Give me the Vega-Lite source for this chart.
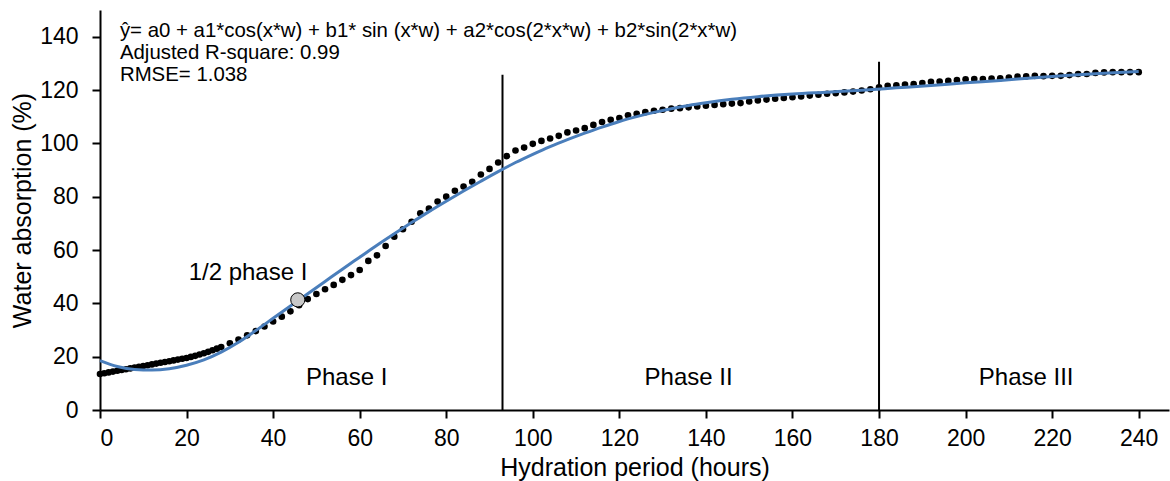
{
  "$schema": "https://vega.github.io/schema/vega-lite/v6.json",
  "width": 1069,
  "height": 400,
  "autosize": {"type": "none"},
  "padding": {"left": 100, "top": 10, "right": 1, "bottom": 71},
  "background": "white",
  "config": {
    "view": {"stroke": null},
    "font": "Liberation Sans",
    "axis": {"grid": false, "domainColor": "black", "domainWidth": 2, "tickColor": "black", "tickWidth": 2, "tickSize": 8, "labelColor": "black", "labelFontSize": 23, "titleFontSize": 25, "titleFontWeight": "normal", "titleColor": "black", "labelFont": "Liberation Sans", "titleFont": "Liberation Sans"}
  },
  "datasets": {
    "obs": [
      {"h":0,"v":13.5},{"h":1,"v":13.8},{"h":2,"v":14.1},{"h":3,"v":14.4},{"h":4,"v":14.7},{"h":5,"v":15.0},{"h":6,"v":15.3},{"h":7,"v":15.6},{"h":8,"v":15.9},{"h":9,"v":16.2},{"h":10,"v":16.5},{"h":11,"v":16.8},{"h":12,"v":17.1},{"h":13,"v":17.4},{"h":14,"v":17.7},{"h":15,"v":18.0},{"h":16,"v":18.3},{"h":17,"v":18.6},{"h":18,"v":18.9},{"h":19,"v":19.2},{"h":20,"v":19.5},{"h":21,"v":19.9},{"h":22,"v":20.3},{"h":23,"v":20.8},{"h":24,"v":21.3},{"h":25,"v":21.8},{"h":26,"v":22.4},{"h":27,"v":23.0},{"h":28,"v":23.6},
      {"h":30,"v":25.0},{"h":32,"v":26.4},{"h":34,"v":28.0},{"h":36,"v":29.6},{"h":38,"v":31.3},{"h":40,"v":33.2},{"h":42,"v":35.0},{"h":44,"v":37.0},{"h":46,"v":39.3},{"h":48,"v":41.6},{"h":50,"v":43.5},{"h":52,"v":45.3},{"h":54,"v":46.9},{"h":56,"v":48.8},{"h":58,"v":50.6},{"h":60,"v":52.5},{"h":62,"v":55.9},{"h":64,"v":58.0},{"h":66,"v":61.5},{"h":68,"v":65.0},{"h":70,"v":67.8},{"h":72,"v":70.6},{"h":74,"v":73.8},{"h":76,"v":75.5},{"h":78,"v":78.2},{"h":80,"v":80.0},{"h":82,"v":82.2},{"h":84,"v":83.8},{"h":86,"v":85.6},{"h":88,"v":88.3},{"h":90,"v":90.4},{"h":92,"v":92.8},{"h":94,"v":95.2},{"h":96,"v":97.3},{"h":98,"v":98.4},{"h":100,"v":99.8},{"h":102,"v":100.9},{"h":104,"v":101.8},{"h":106,"v":102.8},{"h":108,"v":104.1},{"h":110,"v":104.8},{"h":112,"v":105.7},{"h":114,"v":106.9},{"h":116,"v":108.0},{"h":118,"v":108.8},{"h":120,"v":109.5},{"h":122,"v":110.5},{"h":124,"v":111.1},{"h":126,"v":111.7},{"h":128,"v":112.2},{"h":130,"v":112.6},{"h":132,"v":113.0},{"h":134,"v":113.2},{"h":136,"v":113.5},{"h":138,"v":113.8},{"h":140,"v":114.1},{"h":142,"v":114.4},{"h":144,"v":114.7},{"h":146,"v":114.9},{"h":148,"v":115.1},{"h":150,"v":115.7},{"h":152,"v":116.1},{"h":154,"v":116.4},{"h":156,"v":116.7},{"h":158,"v":117.0},{"h":160,"v":117.3},{"h":162,"v":117.6},{"h":164,"v":117.9},{"h":166,"v":118.2},{"h":168,"v":118.6},{"h":170,"v":118.8},{"h":172,"v":119.1},{"h":174,"v":119.4},{"h":176,"v":119.8},{"h":178,"v":120.3},{"h":180,"v":121.0},{"h":182,"v":121.6},{"h":184,"v":121.8},{"h":186,"v":122.0},{"h":188,"v":122.2},{"h":190,"v":122.6},{"h":192,"v":123.1},{"h":194,"v":123.2},{"h":196,"v":123.4},{"h":198,"v":123.7},{"h":200,"v":124.0},{"h":202,"v":124.1},{"h":204,"v":124.1},{"h":206,"v":124.3},{"h":208,"v":124.4},{"h":210,"v":124.7},{"h":212,"v":125.0},{"h":214,"v":125.1},{"h":216,"v":125.3},{"h":218,"v":125.2},{"h":220,"v":125.3},{"h":222,"v":125.3},{"h":224,"v":125.6},{"h":226,"v":126.0},{"h":228,"v":126.0},{"h":230,"v":126.4},{"h":232,"v":126.6},{"h":234,"v":126.7},{"h":236,"v":126.7},{"h":238,"v":126.7},{"h":240,"v":126.7}
    ],
    "fit": [
      {"h":0,"v":18.5},{"h":4,"v":16.3},{"h":8,"v":15.2},{"h":12,"v":15.0},{"h":16,"v":15.5},{"h":20,"v":16.8},{"h":24,"v":18.8},{"h":28,"v":21.7},{"h":32,"v":25.4},{"h":36,"v":29.8},{"h":40,"v":34.4},{"h":44,"v":39.0},{"h":48,"v":43.6},{"h":52,"v":48.2},{"h":56,"v":52.8},{"h":60,"v":57.3},{"h":64,"v":61.8},{"h":68,"v":66.1},{"h":72,"v":70.3},{"h":76,"v":74.4},{"h":80,"v":78.3},{"h":84,"v":82.1},{"h":88,"v":85.8},{"h":92,"v":89.4},{"h":96,"v":92.8},{"h":100,"v":95.9},{"h":104,"v":98.8},{"h":108,"v":101.4},{"h":112,"v":103.8},{"h":116,"v":106.1},{"h":120,"v":108.2},{"h":124,"v":110.0},{"h":128,"v":111.6},{"h":132,"v":113.0},{"h":136,"v":114.2},{"h":140,"v":115.2},{"h":146,"v":116.5},{"h":152,"v":117.5},{"h":160,"v":118.5},{"h":168,"v":119.2},{"h":176,"v":119.9},{"h":184,"v":120.8},{"h":192,"v":121.7},{"h":200,"v":122.7},{"h":208,"v":123.6},{"h":216,"v":124.6},{"h":224,"v":125.5},{"h":232,"v":126.3},{"h":240,"v":126.9}
    ],
    "phases": [
      {"h":93,"top":125.7},{"h":180,"top":130.6}
    ],
    "labels": [
      {"h":57,"v":12,"t":"Phase I"},{"h":136,"v":12,"t":"Phase II"},{"h":214,"v":12,"t":"Phase III"},{"h":34.2,"v":51.5,"t":"1/2 phase I"}
    ],
    "eq": [
      {"h":4.6,"v":142.2,"t":"ŷ= a0 + a1*cos(x*w) + b1* sin (x*w) + a2*cos(2*x*w) + b2*sin(2*x*w)"},
      {"h":4.6,"v":134.0,"t":"Adjusted R-square: 0.99"},
      {"h":4.6,"v":125.8,"t":"RMSE= 1.038"}
    ],
    "half": [{"h":45.7,"v":41.3}]
  },
  "encoding": {
    "x": {"field": "h", "type": "quantitative", "scale": {"domain": [0, 247], "nice": false}, "axis": {"values": [0,20,40,60,80,100,120,140,160,180,200,220,240], "title": "Hydration period (hours)", "labelPadding": 9, "titlePadding": 5}},
    "y": {"field": "v", "type": "quantitative", "scale": {"domain": [0, 150], "nice": false}, "axis": {"values": [0,20,40,60,80,100,120,140], "title": "Water absorption (%)", "labelPadding": 14, "titlePadding": 4}}
  },
  "layer": [
    {"data": {"name": "phases"}, "mark": {"type": "rule", "color": "black", "strokeWidth": 2}, "encoding": {"x": {"field": "h", "type": "quantitative"}, "y": {"field": "top", "type": "quantitative"}, "y2": {"datum": 0}}},
    {"data": {"name": "obs"}, "mark": {"type": "circle", "color": "black", "opacity": 1, "size": 44}},
    {"data": {"name": "fit"}, "mark": {"type": "line", "color": "#4a7ebb", "strokeWidth": 3, "interpolate": "monotone"}},
    {"data": {"name": "half"}, "mark": {"type": "point", "shape": "circle", "filled": true, "fill": "#c8c8c8", "stroke": "black", "strokeWidth": 1, "size": 200, "opacity": 1}},
    {"data": {"name": "labels"}, "mark": {"type": "text", "fontSize": 24, "color": "black", "align": "center", "baseline": "middle", "font": "Liberation Sans"}, "encoding": {"text": {"field": "t"}}},
    {"data": {"name": "eq"}, "mark": {"type": "text", "fontSize": 20.4, "color": "black", "align": "left", "baseline": "middle", "font": "Liberation Sans"}, "encoding": {"text": {"field": "t"}}}
  ]
}
